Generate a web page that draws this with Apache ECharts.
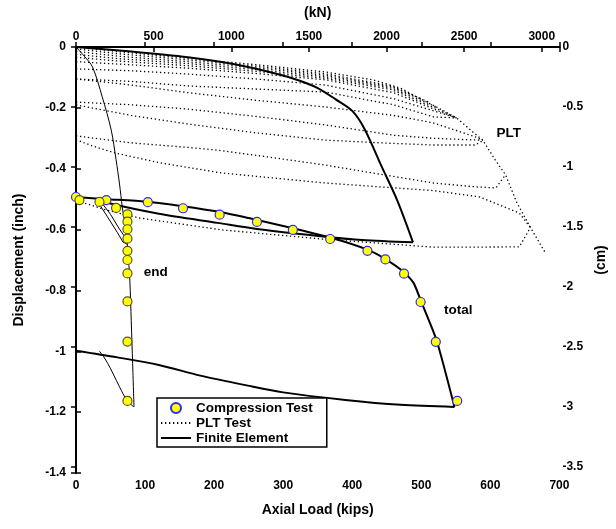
<!DOCTYPE html>
<html>
<head>
<meta charset="utf-8">
<script src="https://cdn.jsdelivr.net/npm/echarts@6/dist/echarts.min.js"></script>
<style>
  html, body { margin: 0; padding: 0; background: #fff; }
  #chart { width: 616px; height: 529px; }
</style>
</head>
<body>
<div id="chart"></div>
<script>
// compression test, [load kips, displacement inch]
const testTotal = [[0,-0.493],[44,-0.503],[104,-0.51],[155,-0.53],[208,-0.551],[262,-0.575],[314,-0.601],[368,-0.631],[422,-0.670],[448,-0.698],[475,-0.745],[499,-0.838],[521,-0.969],[552,-1.163]];
const testEnd = [[5,-0.503],[34,-0.509],[58,-0.529],[74.5,-0.55],[74.5,-0.574],[74.5,-0.599],[74.5,-0.63],[74.5,-0.67],[74.5,-0.70],[74.5,-0.744],[74.5,-0.836],[74.5,-0.968],[74.5,-1.163]];

// PLT test cycles (dotted)
const pltEnvelope = [[0,0],[60,-0.015],[165,-0.038],[260,-0.058],[361,-0.082],[430,-0.108],[470,-0.135],[494,-0.165],[522,-0.197],[551,-0.233],[575,-0.28],[589,-0.306],[607,-0.371],[622,-0.42],[638,-0.51],[658,-0.593],[679,-0.674]];
const plt1 = [[0,-0.006],[60,-0.022],[165,-0.043],[260,-0.063],[361,-0.088],[457,-0.128],[500,-0.17]];
const plt2 = [[0,-0.014],[60,-0.03],[165,-0.049],[260,-0.068],[361,-0.093],[457,-0.131],[510,-0.18]];
const plt3 = [[0,-0.024],[60,-0.038],[165,-0.055],[260,-0.074],[361,-0.098],[457,-0.135],[522,-0.197]];
const plt4 = [[0,-0.034],[60,-0.046],[165,-0.062],[260,-0.08],[361,-0.103],[457,-0.14],[530,-0.21],[551,-0.233]];
const plt5 = [[0,-0.048],[60,-0.056],[165,-0.07],[260,-0.087],[361,-0.108],[460,-0.15],[530,-0.215],[551,-0.233]];
const plt6 = [[0,-0.072],[80,-0.078],[162,-0.089],[260,-0.105],[361,-0.125],[460,-0.17],[518,-0.21],[551,-0.233]];
const plt7 = [[0,-0.105],[80,-0.113],[162,-0.128],[260,-0.138],[361,-0.148],[460,-0.19],[518,-0.23],[551,-0.233]];
const plt8 = [[0,-0.105],[80,-0.125],[162,-0.15],[260,-0.175],[361,-0.197],[460,-0.225],[518,-0.25],[579,-0.296],[589,-0.306]];
const plt9 = [[0,-0.181],[80,-0.19],[162,-0.204],[260,-0.228],[361,-0.256],[460,-0.29],[518,-0.30],[570,-0.305],[589,-0.306]];
const plt10 = [[0,-0.19],[80,-0.225],[162,-0.253],[260,-0.282],[361,-0.306],[450,-0.316],[518,-0.322],[578,-0.322],[589,-0.308]];
const plt11 = [[0,-0.292],[80,-0.315],[162,-0.33],[205,-0.339],[280,-0.362],[361,-0.388],[440,-0.418],[518,-0.447],[580,-0.46],[608,-0.463],[622,-0.42]];
const plt12 = [[0,-0.305],[30,-0.33],[58,-0.349],[120,-0.38],[211,-0.414],[361,-0.447],[518,-0.472],[585,-0.493],[642,-0.546],[658,-0.593]];
const plt13 = [[0,-0.49],[7,-0.509],[44,-0.536],[92,-0.562],[211,-0.601],[361,-0.632],[518,-0.658],[642,-0.657],[658,-0.593]];

// finite element, total (thick)
const feTotalLoad = [[0,-0.493],[45,-0.5],[100,-0.508],[154,-0.523],[209,-0.542],[250,-0.562],[300,-0.588],[368,-0.626],[422,-0.666],[448,-0.697],[475,-0.74],[489,-0.776],[499,-0.832],[522,-0.963],[548,-1.183]];
const feTotalUnload = [[548,-1.183],[470,-1.176],[390,-1.16],[300,-1.135],[247,-1.112],[180,-1.08],[120,-1.045],[60,-1.02],[0,-0.998]];
const fePltLoad = [[0,0],[80,-0.015],[162,-0.034],[230,-0.057],[290,-0.088],[323,-0.11],[350,-0.135],[376,-0.172],[400,-0.21],[418,-0.27],[442,-0.39],[465,-0.503],[488,-0.642]];
const fePltUnload = [[488,-0.642],[414,-0.634],[368,-0.625],[262,-0.598],[205,-0.578],[120,-0.548],[60,-0.52],[30,-0.503]];

// finite element, end (thin)
const feEndLoad = [[0,0],[12,-0.03],[24,-0.066],[38,-0.164],[51,-0.273],[58,-0.37],[63,-0.45],[67,-0.526],[72,-0.6],[75,-0.667],[78,-0.77],[80,-0.9],[82,-1.04],[84,-1.183]];
const feEndUnload = [[84,-1.183],[74,-1.162],[63,-1.117],[54,-1.075],[46,-1.04],[40,-1.018],[34,-1.0]];
const feEndV1 = [[29,-0.5],[45,-0.556],[60,-0.61],[68,-0.641],[74,-0.648]];
const feEndV2 = [[36,-0.508],[50,-0.55],[62,-0.595],[73,-0.632]];

const notes = [{ value: [98, -0.739], name: 'end' }, { value: [533, -0.864], name: 'total' }, { value: [609, -0.283], name: 'PLT' }];

const FONT = '"Liberation Sans", Arial, sans-serif';
const KN_PER_KIP = 4.448;

const chart = echarts.init(document.getElementById('chart'));

function dotted(data) {
  return {
    name: 'PLT Test', type: 'line', data: data, symbol: 'none', silent: true,
    itemStyle: { color: '#000' },
    lineStyle: { color: '#000', width: 1.3, type: [1.3, 2.7] }, z: 2
  };
}
function solid(data, w, smooth) {
  return {
    name: 'Finite Element', type: 'line', data: data, symbol: 'none', silent: true,
    smooth: smooth || false,
    itemStyle: { color: '#000' },
    lineStyle: { color: '#000', width: w, type: 'solid' }, z: 3
  };
}

const pltList = [pltEnvelope, plt1, plt2, plt3, plt4, plt5, plt6, plt7, plt8, plt9, plt10, plt11, plt12, plt13];
const series = [];
pltList.forEach(d => series.push(dotted(d)));
series.push(solid(feTotalLoad, 2, 0.2));
series.push(solid(feTotalUnload, 2, 0.3));
series.push(solid(fePltLoad, 2, 0.3));
series.push(solid(fePltUnload, 2, 0.3));
series.push(solid(feEndLoad, 1, 0.3));
series.push(solid(feEndUnload, 1, 0.3));
series.push(solid(feEndV1, 1));
series.push(solid(feEndV2, 1));
series.push({
  name: 'Compression Test', type: 'scatter', data: testTotal, symbolSize: 9, z: 5,
  itemStyle: { color: '#ffff00', borderColor: '#2a2aff', borderWidth: 1.2, opacity: 1 }
});
series.push({
  name: 'Compression Test', type: 'scatter', data: testEnd, symbolSize: 9, z: 5,
  itemStyle: { color: '#ffff00', borderColor: '#55552a', borderWidth: 1.2, opacity: 1 }
});
series.push({
  name: 'notes', type: 'scatter', data: notes, symbolSize: 0, z: 6, silent: true,
  itemStyle: { color: '#000', opacity: 1 },
  label: {
    show: true, position: 'right', distance: 0, formatter: p => p.name,
    color: '#000', fontFamily: FONT, fontWeight: 'bold', fontSize: 13.5
  }
});

const axisCommon = {
  axisLine: { show: true, lineStyle: { color: '#000', width: 2 } },
  axisTick: { show: true, inside: true, length: 5, lineStyle: { color: '#000', width: 1.5 } },
  splitLine: { show: false },
  nameTextStyle: { color: '#000', fontFamily: FONT, fontWeight: 'bold', fontSize: 14 }
};
const labelCommon = { color: '#000', fontFamily: FONT, fontWeight: 'bold', fontSize: 12 };

chart.setOption({
  backgroundColor: '#fff',
  animation: false,
  grid: { left: 76, right: 48, top: 47, bottom: 56 },
  legend: {
    orient: 'vertical', left: 157, top: 398,
    itemWidth: 30, itemHeight: 10, itemGap: 1,
    padding: [3, 14, 2, 3],
    borderColor: '#000', borderWidth: 1.5, backgroundColor: '#fff',
    textStyle: { color: '#000', fontFamily: FONT, fontWeight: 'bold', fontSize: 13.5, lineHeight: 14 },
    data: [
      { name: 'Compression Test', icon: 'circle' },
      { name: 'PLT Test', itemStyle: { opacity: 0 } },
      { name: 'Finite Element', itemStyle: { opacity: 0 } }
    ]
  },
  xAxis: [
    Object.assign({}, axisCommon, {
      type: 'value', position: 'bottom', min: 0, max: 700, interval: 100,
      name: 'Axial Load (kips)', nameLocation: 'middle', nameGap: 30,
      axisLabel: Object.assign({}, labelCommon, { margin: 7 })
    }),
    Object.assign({}, axisCommon, {
      type: 'value', position: 'top', min: 0, max: 700 * KN_PER_KIP, interval: 500,
      name: '(kN)', nameLocation: 'middle', nameGap: 27,
      axisLabel: Object.assign({}, labelCommon, {
        margin: 4, formatter: v => (Math.abs(v % 500) < 1e-6 ? String(v) : '')
      })
    })
  ],
  yAxis: [
    Object.assign({}, axisCommon, {
      type: 'value', position: 'left', min: -1.4, max: 0, interval: 0.2,
      name: 'Displacement (inch)', nameLocation: 'middle', nameGap: 50,
      axisLabel: Object.assign({}, labelCommon, { margin: 10 })
    }),
    Object.assign({}, axisCommon, {
      type: 'value', position: 'right', inverse: true, min: 0, max: 1.4 * 2.54, interval: 0.5,
      name: '(cm)', nameLocation: 'middle', nameGap: 30,
      axisLabel: Object.assign({}, labelCommon, {
        margin: 3,
        formatter: v => {
          const r = Math.round(v * 10) / 10;
          if (Math.abs(r / 0.5 - Math.round(r / 0.5)) > 1e-6 || Math.abs(v - r) > 1e-6) return '';
          return r === 0 ? '0' : '-' + r;
        }
      })
    })
  ],
  series: series
});
</script>
</body>
</html>
